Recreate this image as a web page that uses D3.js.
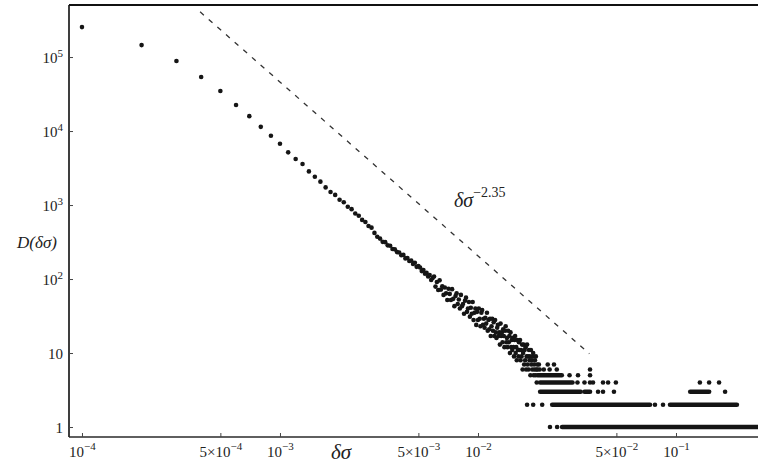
<!DOCTYPE html>
<html>
<head>
<meta charset="utf-8">
<script src="https://cdn.jsdelivr.net/npm/d3@7"></script>
<style>
  html, body { margin: 0; padding: 0; background: #fff; }
  svg { display: block; }
  text { font-family: "Liberation Serif", "DejaVu Serif", serif; fill: #222; }
</style>
</head>
<body>
<svg id="chart" width="758" height="465"></svg>
<script>
// Histogram of stress drops: bin k covers δσ = k · binWidth
const binWidth = 1e-4;

// Counts for bins k = 1, 2, 3, ... (one entry per bin)
const binCounts = [
  254000, 145000, 88300, 53700, 34700, 22500, 15900, 11400, 8630, 6730,
  5150, 4180, 3580, 2850, 2410, 2070, 1730, 1500, 1370, 1180,
  1090, 950, 880, 770, 715, 630, 590, 520, 495, 420,
  372, 352, 318, 315, 285, 282, 255, 252, 231, 228,
  210, 212, 190, 192, 175, 178, 160, 166, 146, 150,
  143, 128, 132, 118, 121, 108, 113, 97, 103, 108,
  79, 91, 71, 96, 72, 80, 61, 77, 64, 52,
  74, 63, 52, 73, 54, 43, 59, 64, 46, 53,
  40, 61, 43, 46, 34, 51, 56, 36, 40, 49,
  31, 41, 34, 49, 28, 35, 40, 24, 36, 28,
  40, 29, 23, 35, 38, 24, 29, 22, 30, 25,
  35, 20, 28, 21, 29, 17, 23, 29, 20, 26,
  17, 28, 19, 16, 22, 24, 17, 19, 13, 25,
  17, 19, 14, 21, 17, 12, 20, 23, 14, 16,
  12, 20, 14, 17, 10, 19, 12, 15, 11, 16,
  12, 9, 15, 17, 10, 12, 8, 15, 11, 9,
  14, 11, 15, 8, 11, 9, 13, 6, 10, 13,
  7, 11, 8, 12, 6, 9, 13, 7, 9, 6,
  11, 8, 9, 5, 11, 7, 8, 6, 9, 10,
  5, 7, 6, 8, 5, 9, 6, 4, 7, 6
];

// Sparse tail: stretches of neighbouring bins sharing one count [count, δσ from, δσ to]
const tailRuns = [
  [1, 0.0266, 0.257],
  [2, 0.0237, 0.0739],
  [2, 0.0933, 0.203],
  [3, 0.0206, 0.0330],
  [3, 0.0345, 0.0368],
  [3, 0.118, 0.147],
  [4, 0.0206, 0.0300],
  [5, 0.0200, 0.0265]
];

// Isolated tail bins [δσ, count]
const tailDots = [
  [0.0231, 1], [0.0251, 1],
  [0.0177, 2], [0.0190, 2], [0.0211, 2], [0.0783, 2], [0.0860, 2],
  [0.0404, 3], [0.0428, 3], [0.0486, 3], [0.177, 3],
  [0.0318, 4], [0.0345, 4], [0.0368, 4], [0.0381, 4], [0.0428, 4], [0.0454, 4], [0.0497, 4],
  [0.132, 4], [0.147, 4], [0.165, 4],
  [0.0290, 5], [0.0320, 5], [0.0368, 5],
  [0.0205, 6], [0.0215, 6], [0.0230, 6], [0.0250, 6], [0.0368, 6],
  [0.0203, 7], [0.0225, 7], [0.0242, 7]
];

// Power-law guide D ∝ δσ^-2.35
const guideExponent = -2.35;
const guideCoef = 0.0041;
const guideFrom = 3.95e-4;
const guideTo = 0.0365;

// Axis ticks: [mantissa prefix, base, exponent]
const xTicks = [1e-4, 5e-4, 1e-3, 5e-3, 1e-2, 5e-2, 1e-1];
const xTickLabels = [
  ["", "10", "\u22124"], ["5\u00d7", "10", "\u22124"], ["", "10", "\u22123"],
  ["5\u00d7", "10", "\u22123"], ["", "10", "\u22122"], ["5\u00d7", "10", "\u22122"],
  ["", "10", "\u22121"]
];
const yTicks = [1, 10, 100, 1e3, 1e4, 1e5];
const yTickLabels = [["1", ""], ["10", ""], ["10", "2"], ["10", "3"], ["10", "4"], ["10", "5"]];

const plotLeft = 69, plotRight = 758, plotTop = 5, plotBottom = 437;

const svg = d3.select("#chart");

const x = d3.scaleLog().domain([8.6e-5, 0.2595]).range([plotLeft, plotRight]);
const y = d3.scaleLog().domain([0.733, 5.05e5]).range([plotBottom, plotTop]);

const ink = "#151515";
const r = 2.3;

// Frame: left, top and bottom edges
svg.append("line").attr("x1", plotLeft).attr("x2", plotLeft).attr("y1", plotTop).attr("y2", plotBottom)
  .attr("stroke", "#2a2a2a").attr("stroke-width", 1.8);
svg.append("line").attr("x1", plotLeft).attr("x2", plotRight).attr("y1", plotTop).attr("y2", plotTop)
  .attr("stroke", "#111").attr("stroke-width", 2);
svg.append("line").attr("x1", plotLeft).attr("x2", plotRight).attr("y1", plotBottom).attr("y2", plotBottom)
  .attr("stroke", "#2a2a2a").attr("stroke-width", 1.6);

// Y axis
const yAxis = svg.append("g").attr("transform", `translate(${plotLeft},0)`)
  .call(d3.axisLeft(y).tickValues(yTicks).tickSizeInner(-4).tickSizeOuter(0).tickPadding(6));
yAxis.select(".domain").remove();
yAxis.selectAll(".tick line").attr("stroke", "#444").attr("stroke-width", 1);
yAxis.selectAll(".tick text").each(function (d, i) {
  const t = d3.select(this).text(null)
    .attr("font-size", 15).attr("fill", "#2a2a2a").attr("dy", "0.35em")
    .attr("font-family", "Liberation Serif, serif");
  const [base, exp] = yTickLabels[i];
  t.append("tspan").text(base);
  if (exp) t.append("tspan").attr("font-size", 11).attr("dy", "-0.55em").text(exp);
});

// X axis
const xAxis = svg.append("g").attr("transform", `translate(0,${plotBottom})`)
  .call(d3.axisBottom(x).tickValues(xTicks).tickSizeInner(-4).tickSizeOuter(0).tickPadding(8));
xAxis.select(".domain").remove();
xAxis.selectAll(".tick line").attr("stroke", "#444").attr("stroke-width", 1);
xAxis.selectAll(".tick text").each(function (d, i) {
  const t = d3.select(this).text(null)
    .attr("font-size", 15).attr("fill", "#2a2a2a").attr("dy", "0.8em")
    .attr("font-family", "Liberation Serif, serif");
  const [pre, base, exp] = xTickLabels[i];
  t.append("tspan").text(pre + base);
  t.append("tspan").attr("font-size", 11).attr("dy", "-0.6em").text(exp);
});

// Axis titles
svg.append("text").attr("x", 37).attr("y", 248).attr("text-anchor", "middle")
  .attr("font-size", 17).attr("font-style", "italic").text("D(\u03b4\u03c3)");
svg.append("text").attr("x", 341).attr("y", 459).attr("text-anchor", "middle")
  .attr("font-size", 21).attr("font-style", "italic").text("\u03b4\u03c3");

// Power-law guide
const guidePts = [guideFrom, guideTo].map(v => [x(v), y(guideCoef * Math.pow(v, guideExponent))]);
svg.append("path").attr("d", d3.line()(guidePts))
  .attr("stroke", "#333").attr("stroke-width", 1.3).attr("stroke-dasharray", "5,6.5").attr("fill", "none");
const guideLabel = svg.append("text").attr("x", 454).attr("y", 207).attr("font-size", 20);
guideLabel.append("tspan").attr("font-style", "italic").text("\u03b4\u03c3");
guideLabel.append("tspan").attr("font-size", 14).attr("dy", "-0.7em").text("\u22122.35");

// Data points
const pts = binCounts.map((c, i) => [(i + 1) * binWidth, c]);
const marks = svg.append("g");
marks.selectAll("line.run").data(tailRuns).join("line").attr("class", "run")
  .attr("x1", d => x(d[1])).attr("x2", d => x(d[2]))
  .attr("y1", d => y(d[0])).attr("y2", d => y(d[0]))
  .attr("stroke", ink).attr("stroke-width", 2 * r).attr("stroke-linecap", "round");
marks.selectAll("circle.tail").data(tailDots).join("circle").attr("class", "tail")
  .attr("cx", d => x(d[0])).attr("cy", d => y(d[1])).attr("r", r).attr("fill", ink);
marks.selectAll("circle.bin").data(pts).join("circle").attr("class", "bin")
  .attr("cx", d => x(d[0])).attr("cy", d => y(d[1])).attr("r", r).attr("fill", ink);
</script>
</body>
</html>
